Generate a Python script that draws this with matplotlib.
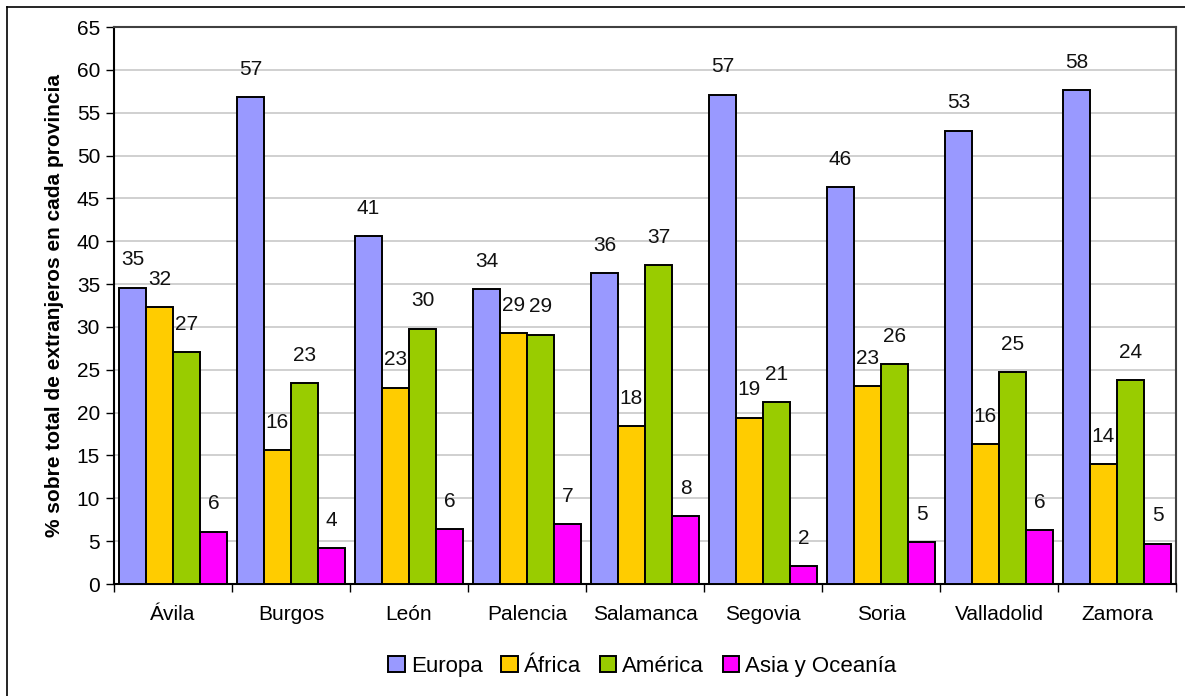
import matplotlib.pyplot as plt
from matplotlib.lines import Line2D
import numpy as np

# Porcentaje de extranjeros por continente de origen en cada provincia

provincias = ['Ávila', 'Burgos', 'León', 'Palencia', 'Salamanca',
              'Segovia', 'Soria', 'Valladolid', 'Zamora']
series = ['Europa', 'África', 'América', 'Asia y Oceanía']

europa = [34.6, 56.8, 40.6, 34.4, 36.3, 57.1, 46.3, 52.9, 57.6]
africa = [32.3, 15.6, 22.9, 29.3, 18.4, 19.4, 23.1, 16.3, 14.0]
america = [27.1, 23.4, 29.8, 29.1, 37.2, 21.2, 25.7, 24.7, 23.8]
asia = [6.1, 4.2, 6.4, 7.0, 7.9, 2.1, 4.9, 6.3, 4.7]

colores = ['#9999FF', '#FFCC00', '#99CC00', '#FF00FF']

plt.rcParams['font.family'] = ['Liberation Sans', 'DejaVu Sans']


def main():
	fig = plt.figure(figsize=(11.85, 6.96), dpi=100)
	ax = fig.add_axes([0.0962, 0.1609, 0.8962, 0.8003])

	datos = [europa, africa, america, asia]
	x = np.arange(len(provincias))
	ancho = 0.229

	for i, (vals, nombre) in enumerate(zip(datos, series)):
		pos = x + (i - 1.5) * ancho
		bars = ax.bar(pos, vals, ancho, color=colores[i], edgecolor='black',
		              linewidth=1.4, label=nombre, zorder=3)
		# etiquetas encima de cada barra
		for b, v in zip(bars, vals):
			ax.annotate(f"{v:.0f}", (b.get_x() + b.get_width() / 2, v),
			            xytext=(0, 20), textcoords='offset points',
			            ha='center', va='center', fontsize=15, color='#111111')

	ax.set_xlim(-0.5, len(provincias) - 0.5)
	ax.set_ylim(0, 65)
	ax.set_yticks(np.arange(0, 66, 5))
	ax.set_xticks(x)
	ax.set_xticklabels(provincias)
	ax.set_xticks(np.arange(-0.5, len(provincias), 1), minor=True)
	ax.tick_params(axis='x', which='major', length=0, pad=15, labelsize=15)
	ax.tick_params(axis='x', which='minor', length=6, width=1, direction='out')
	ax.tick_params(axis='y', length=6, width=1, direction='out', labelsize=15, pad=4)

	ax.grid(axis='y', color='#C8C8C8', linewidth=1.2, zorder=0)
	ax.set_axisbelow(True)
	for s in ['left', 'bottom']:
		ax.spines[s].set_linewidth(1.5)
		ax.spines[s].set_color('black')
	for s in ['top', 'right']:
		ax.spines[s].set_linewidth(1.5)
		ax.spines[s].set_color('#404040')

	ax.set_ylabel('% sobre total de extranjeros en cada provincia',
	              fontsize=15, fontweight='bold', labelpad=9)

	fig.legend(loc='center', bbox_to_anchor=(0.542, 0.043), ncol=4, frameon=False,
	           fontsize=16, handlelength=0.75, handleheight=0.75, handletextpad=0.25,
	           columnspacing=0.85)

	# marco exterior (cortado a la derecha y abajo)
	fig.add_artist(Line2D([7 / 1185, 1], [1 - 7 / 696, 1 - 7 / 696],
	                      color='black', linewidth=1.2, transform=fig.transFigure))
	fig.add_artist(Line2D([7 / 1185, 7 / 1185], [0, 1 - 7 / 696],
	                      color='black', linewidth=1.2, transform=fig.transFigure))

	fig.savefig('out.png', dpi=100)


if __name__ == "__main__":
	main()
